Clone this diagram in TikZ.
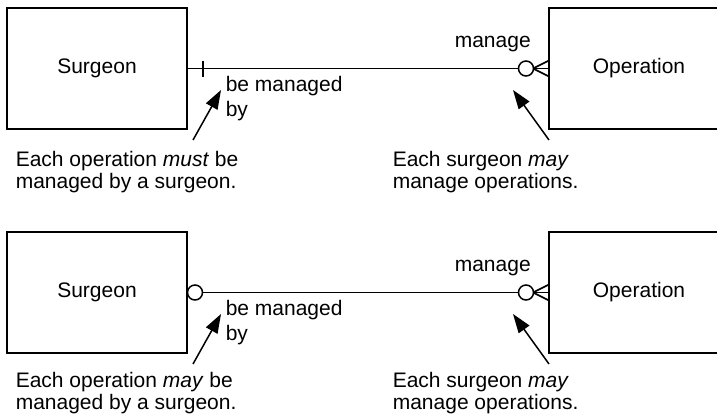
\documentclass[tikz,border=0pt]{standalone}
\usepackage{fontspec}
\setmainfont{Liberation Sans}
\usetikzlibrary{arrows.meta}
\begin{document}
\begin{tikzpicture}[x=1pt,y=-1pt,
  line width=1.6pt,
  entity/.style={draw, rectangle, minimum width=180pt, minimum height=121pt,
    inner sep=0pt, font=\fontsize{21}{25}\selectfont},
  lbl/.style={inner sep=0pt, anchor=base west, font=\fontsize{21}{25}\selectfont},
  pointer/.style={line width=1.5pt, -{Triangle[length=19pt,width=13pt]}},
  optional/.style={draw, circle, fill=white, minimum size=15pt, inner sep=0pt, line width=1.5pt}
]
\clip (0,0) rectangle (717,415);

% ---------- Top relationship: mandatory / optional-many ----------
\node[entity] (s1) at (97,68.5) {Surgeon};
\node[entity] (o1) at (639,68.5) {Operation};
\draw (s1.east) -- (o1.west);
% one (mandatory) tick on the surgeon end
\coordinate (k1a) at (203,61);
\coordinate (k1b) at (203,77);
\draw (k1a) -- (k1b);
% zero-or-many on the operation end
\coordinate (f1) at (533,68.5);
\coordinate (f1a) at (549,60.5);
\coordinate (f1b) at (549,76.5);
\draw (f1a) -- (f1) -- (f1b);
\node[optional] (c1) at (526,68.5) {};

\node[lbl] (m1) at (454,47) {manage};
\node[lbl] (bm1) at (225,91) {be managed};
\node[lbl] (by1) at (225,116) {by};

\node[lbl] (l1a) at (15,166) {Each operation \textit{must} be};
\node[lbl] (l1b) at (15,188) {managed by a surgeon.};
\node[lbl] (r1a) at (392,166) {Each surgeon \textit{may}};
\node[lbl] (r1b) at (392,188) {manage operations.};

\coordinate (p1t) at (193,140);
\coordinate (p1h) at (221,90);
\draw[pointer] (p1t) -- (p1h);
\coordinate (q1t) at (549,140);
\coordinate (q1h) at (513,90);
\draw[pointer] (q1t) -- (q1h);

% ---------- Bottom relationship: optional / optional-many ----------
\node[entity] (s2) at (97,292.5) {Surgeon};
\node[entity] (o2) at (639,292.5) {Operation};
\draw (s2.east) -- (o2.west);
\node[optional] (c2a) at (195,292.5) {};
\coordinate (f2) at (533,292.5);
\coordinate (f2a) at (549,284.5);
\coordinate (f2b) at (549,300.5);
\draw (f2a) -- (f2) -- (f2b);
\node[optional] (c2) at (526,292.5) {};

\node[lbl] (m2) at (454,271) {manage};
\node[lbl] (bm2) at (225,315) {be managed};
\node[lbl] (by2) at (225,340) {by};

\node[lbl] (l2a) at (15,387) {Each operation \textit{may} be};
\node[lbl] (l2b) at (15,409) {managed by a surgeon.};
\node[lbl] (r2a) at (392,387) {Each surgeon \textit{may}};
\node[lbl] (r2b) at (392,409) {manage operations.};

\coordinate (p2t) at (193,364);
\coordinate (p2h) at (221,314);
\draw[pointer] (p2t) -- (p2h);
\coordinate (q2t) at (549,364);
\coordinate (q2h) at (513,314);
\draw[pointer] (q2t) -- (q2h);
\end{tikzpicture}
\end{document}
